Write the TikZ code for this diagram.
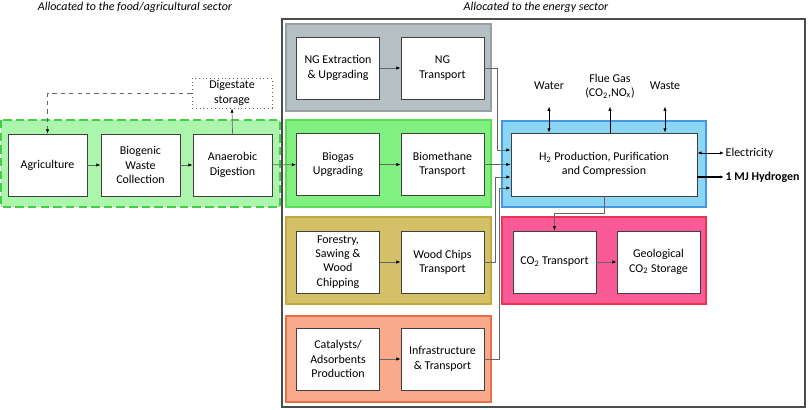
\documentclass[tikz,border=0pt]{standalone}
\usepackage{fontspec}
\setmainfont{Carlito}
\usetikzlibrary{arrows.meta,calc}

\definecolor{grayfill}{RGB}{180,192,196}
\definecolor{grayline}{RGB}{150,160,164}
\definecolor{biofill}{RGB}{128,240,128}
\definecolor{bioline}{RGB}{90,220,90}
\definecolor{agrifill}{RGB}{172,245,172}
\definecolor{agriline}{RGB}{70,205,70}
\definecolor{woodfill}{RGB}{212,192,102}
\definecolor{woodline}{RGB}{196,168,64}
\definecolor{catfill}{RGB}{250,170,140}
\definecolor{catline}{RGB}{232,110,72}
\definecolor{hfill}{RGB}{140,214,245}
\definecolor{hline}{RGB}{70,150,228}
\definecolor{cofill}{RGB}{250,90,150}
\definecolor{coline}{RGB}{238,50,80}

\tikzset{
  txt/.style={font=\fontsize{8.5pt}{10.2pt}\selectfont, align=center, inner sep=1pt},
  procbox/.style={txt, draw=black!75, fill=white, line width=0.6pt, minimum width=2.075cm, minimum height=1.55cm},
  agribox/.style={procbox, minimum width=1.975cm},
  flow/.style={draw=black!60, line width=0.5pt, -{Latex[length=3pt,width=2.4pt,color=black]}},
  twoway/.style={draw=black, line width=0.5pt, {Latex[length=3pt,width=2.4pt]}-{Latex[length=3pt,width=2.4pt]}}
}

\begin{document}
\begin{tikzpicture}[x=0.025cm,y=-0.025cm]
\useasboundingbox (0,0) rectangle (808,409);

\node[txt, font=\fontsize{8.5pt}{10.2pt}\selectfont\itshape] (titleagri) at (135,7) {Allocated to the food/agricultural sector};
\node[txt, font=\fontsize{8.5pt}{10.2pt}\selectfont\itshape] (titleenergy) at (536,7) {Allocated to the energy sector};

\draw[black!70, line width=1pt] (282,19) rectangle (805,407);

\draw[fill=agrifill, draw=agriline, line width=1.1pt, dash pattern=on 6pt off 3pt] (1,120) rectangle (280,207);
\draw[fill=grayfill, draw=grayline, line width=0.8pt] (286,24) rectangle (491,111);
\draw[fill=biofill, draw=bioline, line width=0.8pt] (286,120) rectangle (491,207);
\draw[fill=woodfill, draw=woodline, line width=0.8pt] (286,217) rectangle (491,304);
\draw[fill=catfill, draw=catline, line width=0.8pt] (286,316) rectangle (491,402);
\draw[fill=hfill, draw=hline, line width=0.8pt] (502,121) rectangle (706,207);
\draw[fill=cofill, draw=coline, line width=0.8pt] (502,217) rectangle (706,304);

\node[agribox] (agri) at (47.5,165) {Agriculture};
\node[agribox] (biowaste) at (140.5,165) {Biogenic\\Waste\\Collection};
\node[agribox] (anaer) at (232.5,165) {Anaerobic\\Digestion};
\node[txt, draw=black!60, dotted, line width=0.7pt, minimum width=2cm, minimum height=0.75cm] (digest) at (232,93) {Digestate\\storage};

\node[procbox] (ngext) at (338,68) {NG Extraction\\\& Upgrading};
\node[procbox] (ngtrans) at (442.5,68) {NG\\Transport};
\node[procbox] (biogas) at (338,164.5) {Biogas\\Upgrading};
\node[procbox] (biometh) at (442.5,164.5) {Biomethane\\Transport};
\node[procbox] (forest) at (338,262) {Forestry,\\Sawing \&\\Wood\\Chipping};
\node[procbox] (woodtr) at (442.5,262) {Wood Chips\\Transport};
\node[procbox] (catal) at (338,359) {Catalysts/\\Adsorbents\\Production};
\node[procbox] (infra) at (442.5,359) {Infrastructure\\\& Transport};

\node[procbox, minimum width=4.65cm, minimum height=1.575cm] (htwo) at (604,164.5) {H\textsubscript{2} Production, Purification\\and Compression};
\node[procbox] (cotrans) at (554.5,262) {CO\textsubscript{2} Transport};
\node[procbox] (geostore) at (658.5,262) {Geological\\CO\textsubscript{2} Storage};

\node[txt] (water) at (549,86) {Water};
\node[txt] (flue) at (610,86) {Flue Gas\\(CO\textsubscript{2},NO\textsubscript{x})};
\node[txt] (waste) at (665,86) {Waste};
\node[txt, anchor=west] (elec) at (724,153) {Electricity};
\node[txt, anchor=west, font=\fontsize{8.5pt}{10.2pt}\selectfont\bfseries] (hydro) at (724,177) {1 MJ Hydrogen};

\coordinate (hin1) at ($(htwo.west)+(0,-14.5)$);
\coordinate (hin3) at ($(htwo.west)+(0,12.5)$);
\coordinate (hin4) at ($(htwo.west)+(0,23.5)$);

\draw[flow] (agri) -- (biowaste);
\draw[flow] (biowaste) -- (anaer);
\draw[flow] (anaer) -- (biogas);
\draw[flow] (anaer.north) -- (digest.south);
\draw[flow, dashed] (digest.west) -| (agri.north);

\draw[flow] (ngext) -- (ngtrans);
\draw[flow] (biogas) -- (biometh);
\draw[flow] (forest) -- (woodtr);
\draw[flow] (catal) -- (infra);

\draw[flow] (ngtrans.east) -- ++(13,0) |- (hin1);
\draw[flow] (biometh.east) -- (biometh.east -| htwo.west);
\draw[flow] (woodtr.east) -- ++(11,0) |- (hin3);
\draw[flow] (infra.east) -- ++(15,0) |- (hin4);

\draw[twoway] (htwo.north -| water) -- ++(0,-26);
\draw[flow, draw=black, line width=0.7pt] (htwo.north -| flue) -- ++(0,-26);
\draw[twoway] (htwo.north -| waste) -- ++(0,-26);
\draw[twoway] (htwo.east |- elec.west) -- (elec.west);
\draw[flow, draw=black, line width=1pt] (htwo.east |- hydro.west) -- (hydro.west);

\draw[flow] (htwo.south) -- ++(0,17) -| (cotrans.north);
\draw[flow] (cotrans) -- (geostore);
\end{tikzpicture}
\end{document}
